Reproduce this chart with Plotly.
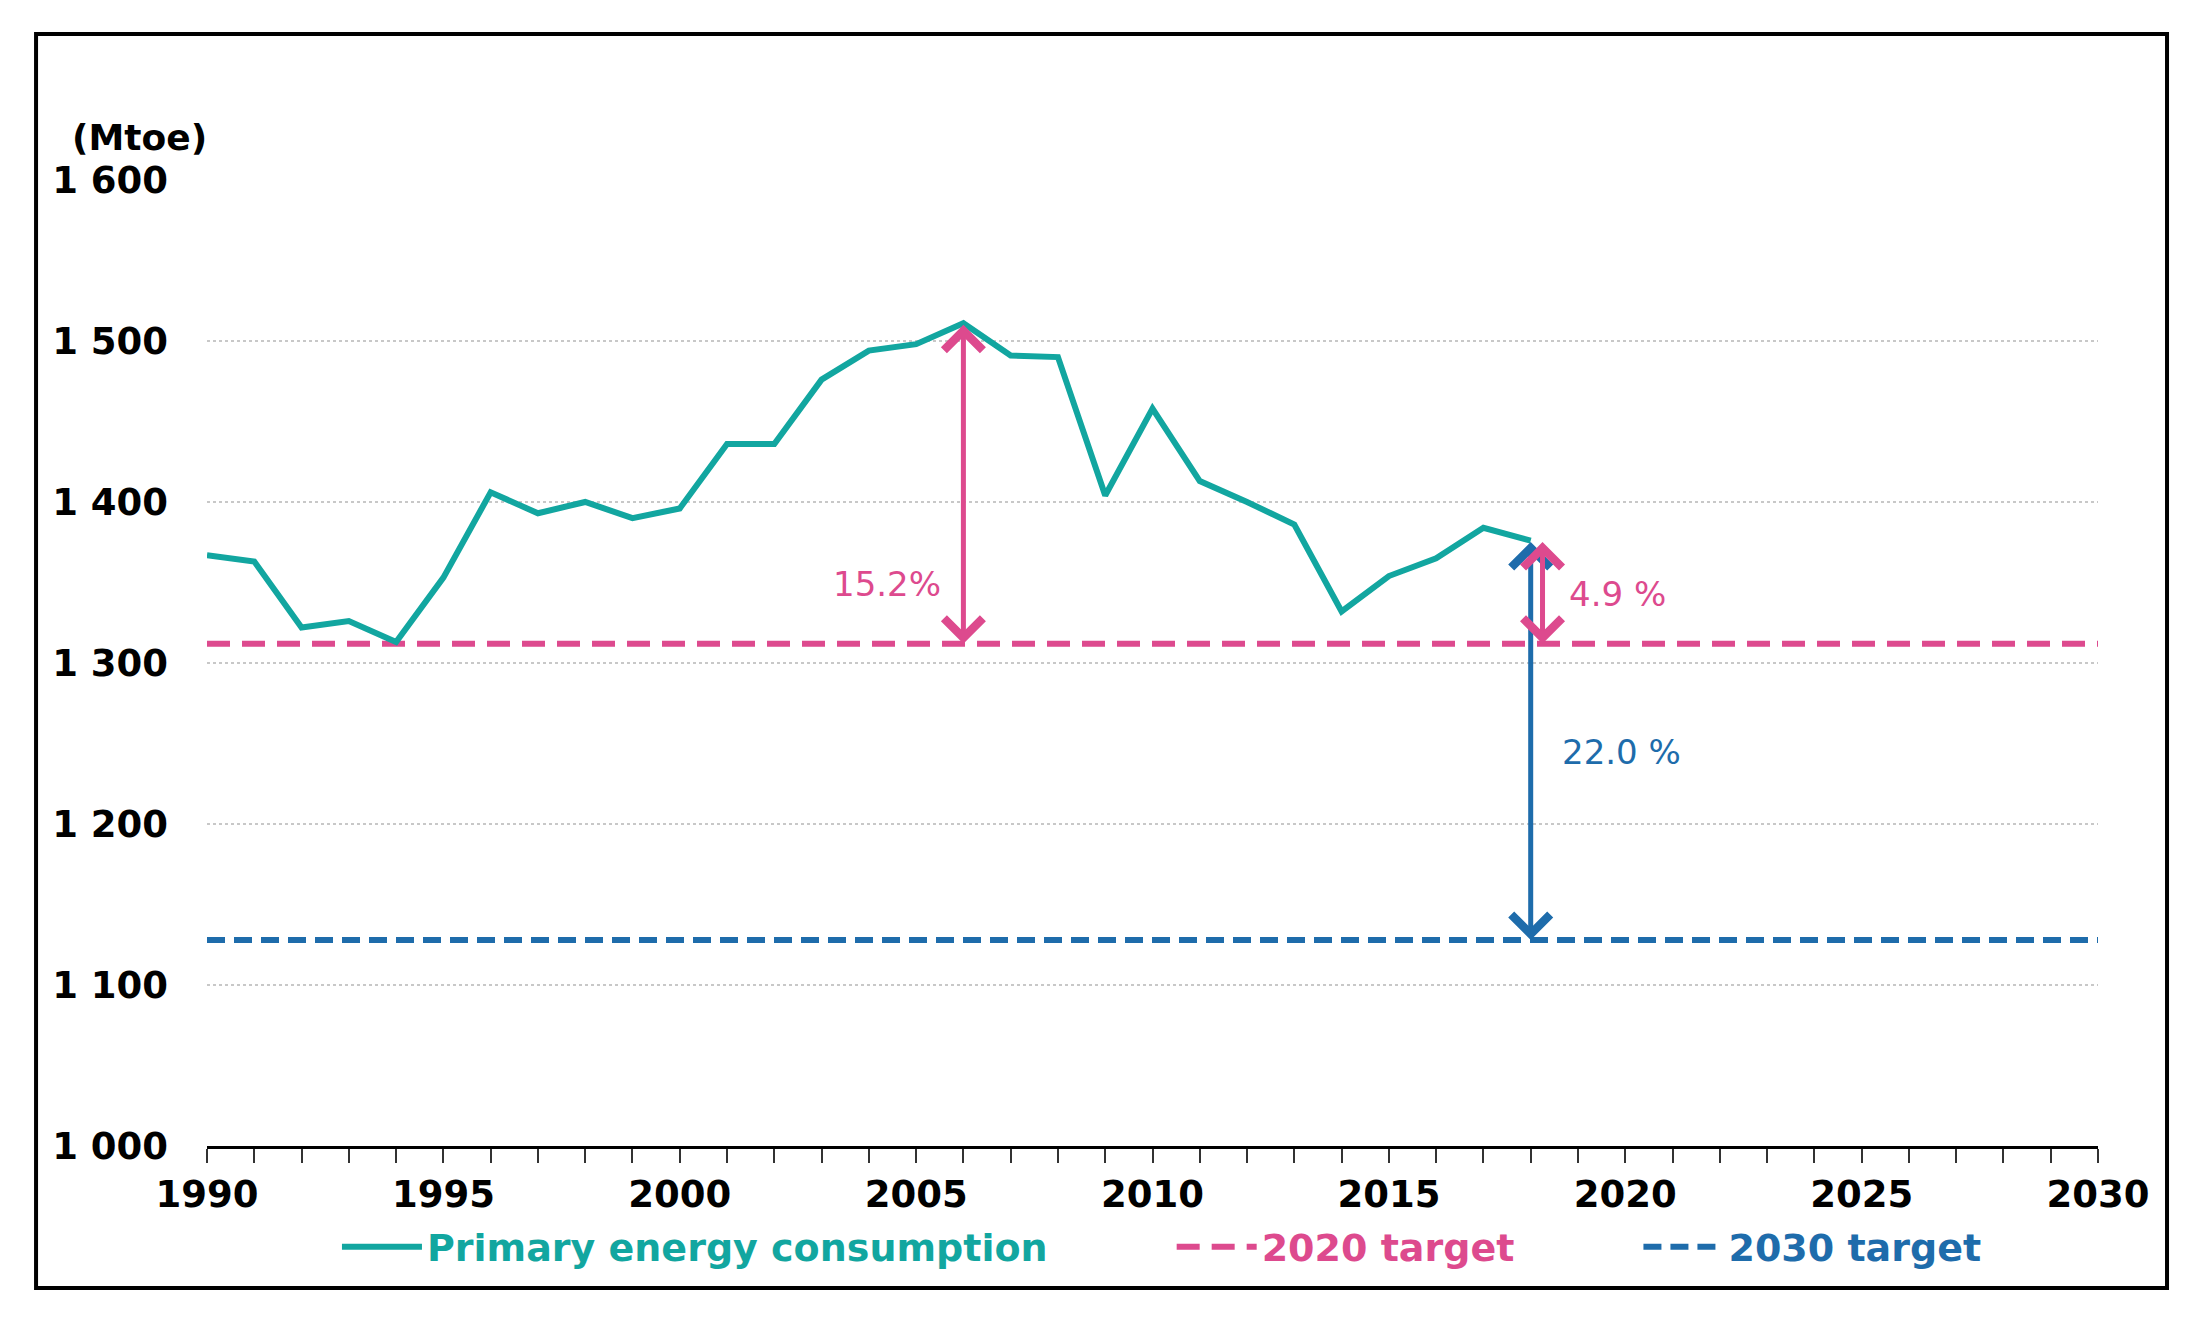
import plotly.graph_objects as go

# Primary energy consumption (Mtoe)
years = list(range(1990, 2019))
consumption = [1367, 1363, 1322, 1326, 1313, 1353, 1406, 1393, 1400, 1390,
               1396, 1436, 1436, 1476, 1494, 1498, 1511, 1491, 1490, 1404,
               1458, 1413, 1400, 1386, 1332, 1354, 1365, 1384, 1376]

target_2020 = 1312
target_2030 = 1128
x_range = [1990, 2030]

x_ticks = list(range(1990, 2031, 5))
y_ticks = [1000, 1100, 1200, 1300, 1400, 1500, 1600]
y_tick_labels = ["1 000", "1 100", "1 200", "1 300", "1 400", "1 500", "1 600"]

TEAL = "#12A6A0"
PINK = "#DD4A8E"
BLUE = "#1E6CAB"
FONT = "DejaVu Sans"

peak = max(consumption)
peak_year = years[consumption.index(peak)]
last_year = years[-1]
last_val = consumption[-1]
pct_peak = (peak - target_2020) / target_2020 * 100
pct_2020 = (last_val - target_2020) / target_2020 * 100
pct_2030 = (last_val - target_2030) / target_2030 * 100

pad = "&nbsp;" * 9

fig = go.Figure()

fig.add_trace(go.Scatter(
    x=x_range, y=[target_2020] * 2, mode="lines",
    name=f'<span style="color:{PINK}">2020 target</span>{pad}',
    line=dict(color=PINK, width=6, dash="23px,12px"),
    legendrank=2, hoverinfo="skip",
))
fig.add_trace(go.Scatter(
    x=x_range, y=[target_2030] * 2, mode="lines",
    name=f'<span style="color:{BLUE}">2030 target</span>',
    line=dict(color=BLUE, width=6, dash="18px,9px"),
    legendrank=3, hoverinfo="skip",
))
fig.add_trace(go.Scatter(
    x=years, y=consumption, mode="lines",
    name=f'<span style="color:{TEAL}">Primary energy consumption</span>{pad}',
    line=dict(color=TEAL, width=6),
    legendrank=1,
))

def double_arrow(x, y_top, y_bottom, color, width):
    fig.add_annotation(
        x=x, y=y_bottom, ax=x, ay=y_top,
        xref="x", yref="y", axref="x", ayref="y",
        text="", showarrow=True,
        arrowhead=4, startarrowhead=4, arrowside="end+start",
        arrowsize=1.5, startarrowsize=1.5,
        arrowwidth=width, arrowcolor=color,
        standoff=0, startstandoff=0,
    )

double_arrow(last_year, last_val, target_2030, BLUE, 5)
double_arrow(peak_year, peak, target_2020, PINK, 5)
double_arrow(last_year + 0.25, last_val, target_2020, PINK, 5)

fig.add_annotation(x=peak_year, y=1349, xref="x", yref="y", xanchor="right",
                   xshift=-20, text=f"{pct_peak:.1f}%", showarrow=False,
                   font=dict(family=FONT, size=34, color=PINK))
fig.add_annotation(x=last_year, y=1343, xref="x", yref="y", xanchor="left",
                   xshift=36, text=f"{pct_2020:.1f} %", showarrow=False,
                   font=dict(family=FONT, size=34, color=PINK))
fig.add_annotation(x=last_year, y=1245, xref="x", yref="y", xanchor="left",
                   xshift=29, text=f"{pct_2030:.1f} %", showarrow=False,
                   font=dict(family=FONT, size=34, color=BLUE))

# unit label
fig.add_annotation(x=-0.0725, y=1.0434, xref="paper", yref="paper", xanchor="left",
                   yanchor="middle", text="(Mtoe)", showarrow=False,
                   font=dict(family=FONT, size=36, color="black", weight="bold"))

# outer frame
fig.add_shape(type="rect", xref="paper", yref="paper",
              x0=-0.0904, x1=1.0365, y0=-0.1468, y1=1.15,
              line=dict(color="black", width=4), fillcolor="rgba(0,0,0,0)")

# page body has an 8px margin, so the figure is trimmed by that much
fig.update_layout(
    width=2188, height=1316,
    margin=dict(l=199, r=98, t=171, b=178),
    paper_bgcolor="white", plot_bgcolor="white",
    font=dict(family=FONT, color="black"),
    showlegend=True,
    legend=dict(
        orientation="h", x=0.505, xanchor="center", y=-0.1044, yanchor="middle",
        font=dict(family=FONT, size=38, weight="bold"),
        itemwidth=80, bgcolor="rgba(0,0,0,0)",
        traceorder="normal",
    ),
    xaxis=dict(
        range=x_range, tickvals=x_ticks,
        showline=True, linecolor="black", linewidth=3,
        ticks="outside", ticklen=14, tickwidth=2, tickcolor="#333333",
        minor=dict(dtick=1, ticks="outside", ticklen=14, tickwidth=2, tickcolor="#333333"),
        showgrid=False, zeroline=False,
        tickfont=dict(family=FONT, size=37, color="black", weight="bold"),
        ticklabelstandoff=0,
    ),
    yaxis=dict(
        range=[1000, 1600.6], tickvals=y_ticks, ticktext=y_tick_labels,
        showline=False, ticks="", zeroline=False,
        showgrid=True, gridcolor="#C8C8C8", gridwidth=1.5, griddash="dot",
        tickfont=dict(family=FONT, size=37, color="black", weight="bold"),
        ticklabelstandoff=38,
    ),
)

fig.write_html("out.html")
